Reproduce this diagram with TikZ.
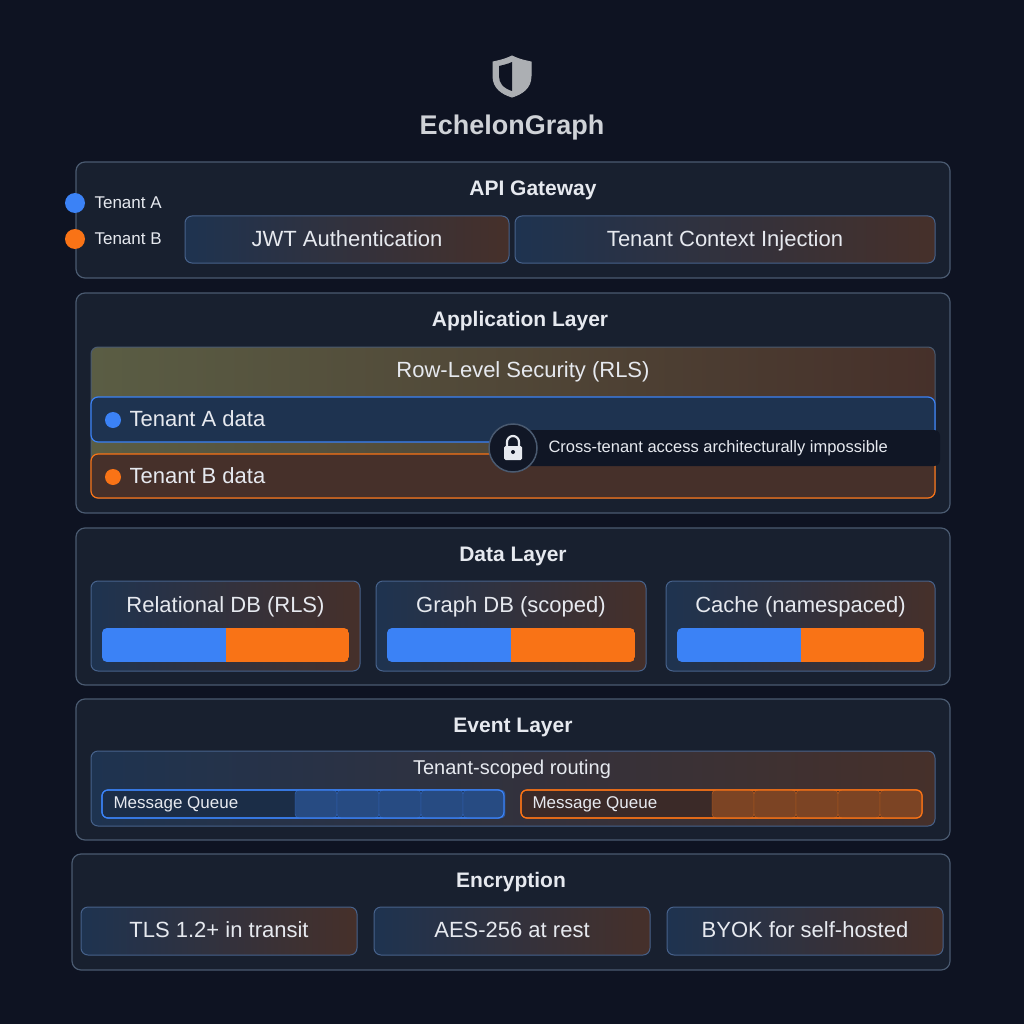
\documentclass[tikz,border=0pt]{standalone}
\usepackage{fontspec}
\setmainfont{Liberation Sans}
\usetikzlibrary{positioning,calc}
\definecolor{bgnavy}{HTML}{0E1322}
\definecolor{layerfill}{HTML}{18202F}
\definecolor{layerline}{HTML}{4A5A70}
\definecolor{tblue}{HTML}{3B82F6}
\definecolor{torange}{HTML}{F97316}
\definecolor{boxblue}{HTML}{1E3350}
\definecolor{boxbrown}{HTML}{46302A}
\definecolor{txt}{HTML}{E6E9EF}
\begin{document}
\begin{tikzpicture}[x=1pt,y=-1pt]
          \tikzstyle{every node}=[text=txt]
          \tikzstyle{layer}=[draw=layerline,fill=layerfill,rounded corners=9pt,line width=1.2pt]
          \tikzstyle{ltitle}=[font=\fontsize{21}{23}\selectfont\bfseries,text height=15pt,text depth=4pt]
          \tikzstyle{mixbox}=[left color=boxblue,right color=boxbrown,draw=layerline!80!tblue,rounded corners=7pt,line width=1pt]
          \tikzstyle{boxtext}=[font=\fontsize{22}{24}\selectfont,text height=16pt,text depth=4pt]
          % fond
          \fill[bgnavy] (0,0) rectangle (1024,1024);
          \useasboundingbox (0,0) rectangle (1024,1024);
          % titre
          \draw[fill=txt!75!black,draw=txt!75!black,line width=1pt]
          (512,56) .. controls (520,60) and (527,61) .. (531,62) -- (531,76)
          .. controls (531,88) and (522,94) .. (512,97)
          .. controls (502,94) and (493,88) .. (493,76) -- (493,62)
          .. controls (497,61) and (504,60) .. (512,56) -- cycle;
          \fill[bgnavy] (512,62) -- (512,91) .. controls (503,88) and (499,83) .. (499,76) -- (499,66) .. controls (503,65) and (508,64) .. (512,62) -- cycle;
          \node[font=\fontsize{27}{29}\selectfont\bfseries,text=txt!90!black] (title) at (512,128) {EchelonGraph};

          % API gateway
          \draw[layer] (76,162) rectangle (950,278);
          \node[ltitle] (api) at (533,190) {API Gateway};
          \draw[mixbox] (185,216) rectangle (509,263);
          \node[boxtext] (jwt) at (347,240) {JWT Authentication};
          \draw[mixbox] (515,216) rectangle (935,263);
          \node[boxtext] (ctx) at (725,240) {Tenant Context Injection};
          \fill[tblue] (75,203) circle (10);
          \fill[torange] (75,239) circle (10);
          \node[anchor=west,font=\fontsize{17}{19}\selectfont] (tA) at (91,203) {Tenant A};
          \node[anchor=west,font=\fontsize{17}{19}\selectfont] (tB) at (91,239) {Tenant B};

          % application layer
          \draw[layer] (76,293) rectangle (950,513);
          \node[ltitle] (app) at (520,321) {Application Layer};
          \draw[left color=layerfill!60!olive!60!gray,right color=boxbrown,draw=layerline,rounded corners=7pt,line width=1pt] (91,347) rectangle (935,498);
          \node[boxtext] (rls) at (523,371) {Row-Level Security (RLS)};
          \draw[fill=boxblue,draw=tblue,rounded corners=7pt,line width=1.2pt] (91,397) rectangle (935,442);
          \draw[fill=boxbrown,draw=torange,rounded corners=7pt,line width=1.2pt] (91,454) rectangle (935,498);
          \fill[tblue] (113,420) circle (8);
          \fill[torange] (113,477) circle (8);
          \node[anchor=west,boxtext] (dA) at (126,420) {Tenant A data};
          \node[anchor=west,boxtext] (dB) at (126,477) {Tenant B data};
          \fill[bgnavy!80!layerfill,rounded corners=6pt] (520,430) rectangle (940,466);
          \node[anchor=west,font=\fontsize{16.5}{18}\selectfont] (cross) at (545,448) {Cross-tenant access architecturally impossible};
          \draw[fill=bgnavy!70!layerfill,draw=layerline,line width=1.5pt] (513,448) circle (24);
          \fill[txt,rounded corners=1.5pt] (504,446) rectangle (522,460);
          \draw[txt,line width=2.2pt] (507,446) -- (507,442) arc (180:360:6) -- (519,446);
          \fill[bgnavy] (513,452) circle (2);

          % data layer
          \draw[layer] (76,528) rectangle (950,685);
          \node[ltitle] (data) at (513,556) {Data Layer};
          \foreach \x/\w/\lbl in {91/269/Relational DB (RLS), 376/270/Graph DB (scoped), 666/269/Cache (namespaced)}{
            \draw[mixbox] (\x,581) rectangle ++(\w,90);
            \node[boxtext] at (\x+\w/2,606) {\lbl};
            \begin{scope}
              \clip[rounded corners=5pt] (\x+11,628) rectangle (\x+\w-11,662);
              \fill[tblue] (\x+11,628) rectangle (\x+\w/2,662);
              \fill[torange] (\x+\w/2,628) rectangle (\x+\w-11,662);
            \end{scope}
          }

          % event layer
          \draw[layer] (76,699) rectangle (950,840);
          \node[ltitle] (event) at (513,727) {Event Layer};
          \draw[mixbox] (91,751) rectangle (935,826);
          \node[font=\fontsize{20}{22}\selectfont] (route) at (512,769) {Tenant-scoped routing};
          \draw[fill=boxblue!80!bgnavy,draw=tblue,rounded corners=6pt,line width=1.2pt] (102,790) rectangle (504,818);
          \draw[fill=boxbrown!80!bgnavy,draw=torange,rounded corners=6pt,line width=1.2pt] (521,790) rectangle (922,818);
          \foreach \i in {0,...,4}{
            \draw[fill=tblue!30!boxblue,draw=tblue!70!boxblue,rounded corners=4pt] (295+\i*42,790) rectangle ++(42,28);
            \draw[fill=torange!30!boxbrown,draw=torange!70!boxbrown,rounded corners=4pt] (712+\i*42,790) rectangle ++(42,28);
          }
          \draw[draw=tblue,rounded corners=6pt,line width=1.2pt] (102,790) rectangle (504,818);
          \draw[draw=torange,rounded corners=6pt,line width=1.2pt] (521,790) rectangle (922,818);
          \node[anchor=west,font=\fontsize{17}{19}\selectfont,text height=12pt,text depth=3pt] (qA) at (110,804) {Message Queue};
          \node[anchor=west,font=\fontsize{17}{19}\selectfont,text height=12pt,text depth=3pt] (qB) at (529,804) {Message Queue};

          % encryption
          \draw[layer] (72,854) rectangle (950,970);
          \node[ltitle] (enc) at (511,882) {Encryption};
          \foreach \x/\lbl in {81/TLS 1.2+ in transit, 374/AES-256 at rest, 667/BYOK for self-hosted}{
            \draw[mixbox] (\x,907) rectangle ++(276,48);
            \node[boxtext] at (\x+138,931) {\lbl};
          }
        \end{tikzpicture}
\end{document}
